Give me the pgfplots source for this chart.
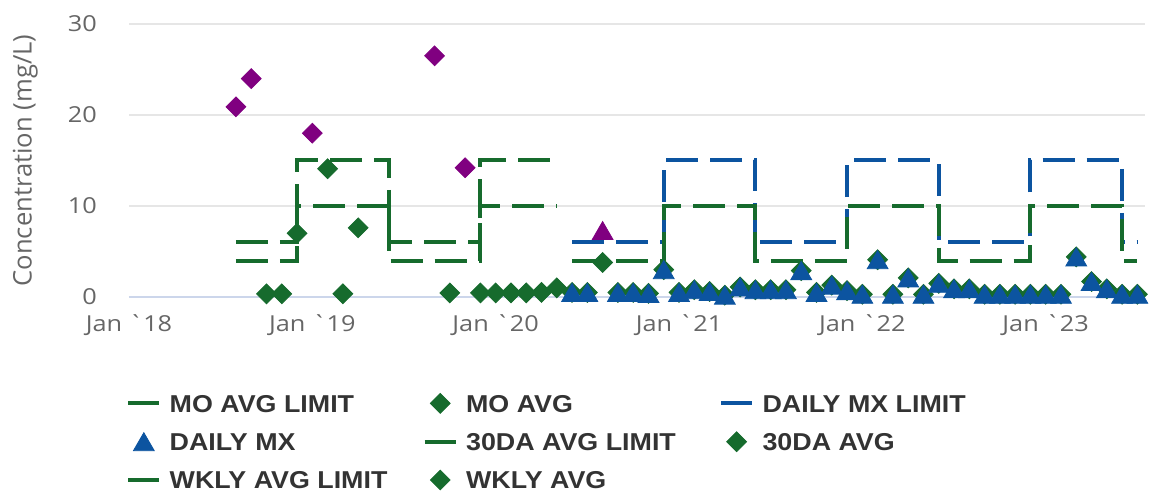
\documentclass[border=0pt]{standalone}
\usepackage{fontspec}
\setmainfont{Open Sans}[FakeStretch=1.15, Ligatures=TeXOff]
\newfontfamily\ylabfont{Open Sans}
\newfontfamily\legfont{Liberation Sans}[FakeStretch=1.1]
\usepackage{pgfplots}
\pgfplotsset{compat=1.18}

\definecolor{limgreen}{RGB}{22,107,45}
\definecolor{mxblue}{RGB}{12,84,160}
\definecolor{exceed}{RGB}{128,0,128}
\definecolor{gridgray}{RGB}{230,230,230}
\definecolor{zeroline}{RGB}{204,214,235}
\definecolor{ticktext}{RGB}{102,102,102}
\definecolor{legtext}{RGB}{51,51,51}

\pgfplotsset{
  limline/.style={const plot, no marks, line width=2pt, dash pattern=on 16pt off 6pt},
  dmark/.style={only marks, mark=square*, mark size=3.5pt, mark options={rotate=45, draw=#1, fill=#1}},
  tmark/.style={only marks, mark=triangle*, mark size=6pt, mark options={yshift=-1.5pt, draw=#1, fill=#1}},
  leglinecode/.style={legend image code/.code={\path (0pt,0pt) (20.5pt,0pt);
    \draw[solid,line width=2pt] (0pt,0pt) -- (15.5pt,0pt);}},
  legmarkcode/.style={legend image code/.code={\path (0pt,0pt) (20.5pt,0pt);
    \draw[mark repeat=2,mark phase=2] plot coordinates {(0pt,0pt) (7.75pt,0pt) (15.5pt,0pt)};}},
}

\begin{document}
\begin{tikzpicture}
\begin{axis}[
  name=ax,
  scale only axis, width=508pt, height=136.5pt,
  xmin=0, xmax=66.5, ymin=0, ymax=30,
  clip=false,
  axis x line*=bottom, axis y line*=left,
  x axis line style={draw=zeroline, line width=0.6pt, -},
  y axis line style={draw=none},
  xtick={0,12,24,36,48,60},
  xticklabels={Jan `18, Jan `19, Jan `20, Jan `21, Jan `22, Jan `23},
  ytick={0,10,20,30},
  major tick length=0pt,
  ymajorgrids, grid style={gridgray, line width=0.6pt},
  tick label style={font=\fontsize{11}{13}\selectfont, text=ticktext},
  /pgf/number format/assume math mode=true,
  yticklabel style={xshift=-12.5pt},
  xticklabel style={yshift=-5.5pt},
  ylabel={Concentration (mg/L)},
  ylabel style={font=\ylabfont\fontsize{12.8}{14}\selectfont, text=ticktext,
    at={(axis description cs:-0.102,0.5)}, anchor=center},
  legend columns=3,
  legend cell align=left,
  legend style={at={(axis description cs:-0.003,-0.352)}, anchor=north west,
    draw=none, fill=none, inner sep=0pt, row sep=9.25pt, column sep=0pt,
    font=\legfont\bfseries\fontsize{12.2}{14}\selectfont, text=legtext,
    nodes={inner sep=0pt, text height=9pt, text depth=0pt}},
]
% limits
\addplot[limline, limgreen, forget plot] coordinates {(7,4) (11,10) (17,4) (23,10) (28,10)};
\addplot[limline, limgreen, forget plot] coordinates {(7,6) (11,15) (17,6) (23,15) (28,15)};
\addplot[limline, mxblue, forget plot] coordinates {(29,6) (35,15) (41,6) (47,15) (53,6) (59,15) (65,6) (66,6)};
\addplot[limline, limgreen, forget plot] coordinates {(29,4) (35,10) (41,4) (47,10) (53,4) (59,10) (65,4) (66,4)};

% MO AVG
\addplot[dmark=limgreen, forget plot] coordinates {(9,0.35) (10,0.35) (14,0.35) (21,0.45) (23,0.45) (24,0.45) (25,0.45) (26,0.45) (27,0.5) (28,1.0)};
% WKLY AVG
\addplot[dmark=limgreen, forget plot] coordinates {(11,7.0) (13,14.1) (15,7.6)};
% 30DA AVG
\addplot[dmark=limgreen, forget plot] coordinates {
(29,0.5) (30,0.5) (31,3.8) (32,0.5) (33,0.5) (34,0.4) (35,3.0) (36,0.5) (37,0.8) (38,0.6)
(39,0.2) (40,1.1) (41,0.8) (42,0.8) (43,0.8) (44,2.9) (45,0.5) (46,1.3) (47,0.7) (48,0.3)
(49,4.1) (50,0.3) (51,2.1) (52,0.3) (53,1.5) (54,0.9) (55,0.9) (56,0.3) (57,0.3) (58,0.3)
(59,0.3) (60,0.3) (61,0.3) (62,4.4) (63,1.7) (64,0.9) (65,0.3) (66,0.3)};
% DAILY MX
\addplot[tmark=mxblue, forget plot] coordinates {
(29,0.5) (30,0.5) (32,0.5) (33,0.5) (34,0.4) (35,3.0) (36,0.5) (37,0.8) (38,0.6)
(39,0.2) (40,1.1) (41,0.8) (42,0.8) (43,0.8) (44,2.9) (45,0.5) (46,1.3) (47,0.7) (48,0.3)
(49,4.1) (50,0.3) (51,2.1) (52,0.3) (53,1.5) (54,0.9) (55,0.9) (56,0.3) (57,0.3) (58,0.3)
(59,0.3) (60,0.3) (61,0.3) (62,4.4) (63,1.7) (64,0.9) (65,0.3) (66,0.3)};
% exceedances
\addplot[dmark=exceed, forget plot] coordinates {(7,20.9) (8,24.0) (12,18.0) (20,26.5) (22,14.2)};
\addplot[tmark=exceed, forget plot] coordinates {(31,7.3)};

% legend
\addlegendimage{limgreen, leglinecode}
\addlegendimage{dmark=limgreen, legmarkcode}
\addlegendimage{mxblue, leglinecode}
\addlegendimage{tmark=mxblue, legmarkcode}
\addlegendimage{limgreen, leglinecode}
\addlegendimage{dmark=limgreen, legmarkcode}
\addlegendimage{limgreen, leglinecode}
\addlegendimage{dmark=limgreen, legmarkcode}
\legend{\makebox[126.5pt][l]{MO AVG LIMIT}, \makebox[126.5pt][l]{MO AVG}, DAILY MX LIMIT,
  \makebox[126.5pt][l]{DAILY MX}, \makebox[126.5pt][l]{30DA AVG LIMIT}, 30DA AVG,
  \makebox[126.5pt][l]{WKLY AVG LIMIT}, WKLY AVG}
\end{axis}
\pgfresetboundingbox
\path ([xshift=-64.5pt,yshift=-99pt]ax.south west) rectangle ([xshift=2pt,yshift=12pt]ax.north east);
\end{tikzpicture}
\end{document}
